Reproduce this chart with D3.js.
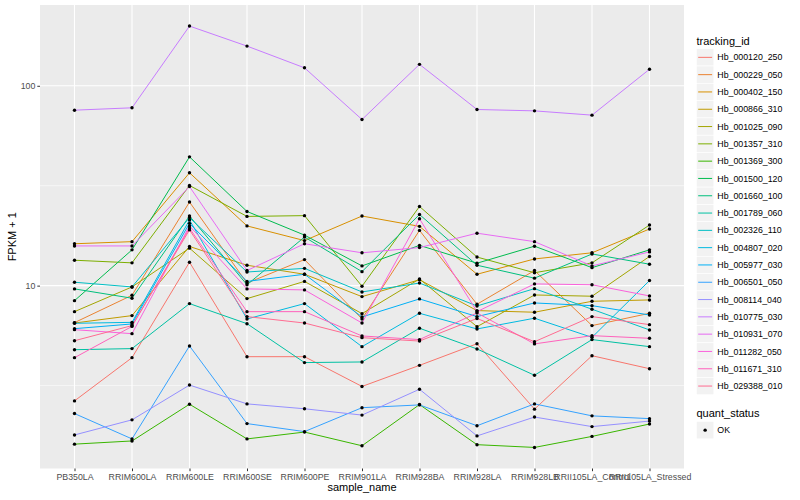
<!DOCTYPE html>
<html>
<head>
<meta charset="utf-8">
<title>FPKM + 1 by sample</title>
<style>
  body { margin: 0; background: #fff; }
  text { font-family: "Liberation Sans", Arial, Helvetica, sans-serif; }
</style>
</head>
<body>
<div id="chart"></div>
<script src="https://d3js.org/d3.v7.min.js"></script>
<script>

// categories
var samples = ["PB350LA", "RRIM600LA", "RRIM600LE", "RRIM600SE", "RRIM600PE", "RRIM901LA",
    "RRIM928BA", "RRIM928LA", "RRIM928LB", "RRII105LA_Control", "RRII105LA_Stressed"];

var trackingIds = ["Hb_000120_250", "Hb_000229_050", "Hb_000402_150", "Hb_000866_310",
    "Hb_001025_090", "Hb_001357_310", "Hb_001369_300", "Hb_001500_120", "Hb_001660_100",
    "Hb_001789_060", "Hb_002326_110", "Hb_004807_020", "Hb_005977_030", "Hb_006501_050",
    "Hb_008114_040", "Hb_010775_030", "Hb_010931_070", "Hb_011282_050", "Hb_011671_310",
    "Hb_029388_010"];

// FPKM + 1, one value per sample
var hb_000120_250 = [2.65, 4.36, 13.1, 4.41, 4.41, 3.13, 3.99, 5.12, 2.41, 4.46, 3.84];
var hb_000229_050 = [6.53, 8.95, 26.2, 10.3, 13.5, 6.81, 18.9, 8.07, 11.9, 6.31, 7.27];
var hb_000402_150 = [16.2, 16.6, 36.7, 19.9, 16.8, 22.3, 19.8, 11.4, 13.6, 14.6, 19.2];
var hb_000866_310 = [6.50, 7.08, 15.7, 12.65, 11.4, 8.81, 10.7, 7.50, 7.36, 8.35, 8.48];
var hb_001025_090 = [7.41, 9.85, 15.4, 8.61, 10.5, 7.24, 10.8, 6.23, 8.98, 8.85, 14.0];
var hb_001357_310 = [13.4, 13.0, 31.7, 22.2, 22.4, 9.93, 24.9, 13.9, 11.6, 13.0, 20.1];
var hb_001369_300 = [1.61, 1.67, 2.55, 1.71, 1.85, 1.58, 2.54, 1.60, 1.55, 1.76, 2.03];
var hb_001500_120 = [8.41, 15.1, 44.1, 23.5, 17.9, 12.55, 15.9, 12.95, 15.75, 12.3, 15.1];
var hb_001660_100 = [9.63, 8.65, 22.3, 10.1, 17.5, 11.75, 22.7, 12.65, 10.9, 14.4, 12.8];
var hb_001789_060 = [4.78, 4.84, 8.13, 6.45, 4.12, 4.15, 6.12, 4.82, 3.56, 5.37, 4.95];
var hb_002326_110 = [10.4, 9.85, 21.9, 11.7, 12.2, 9.30, 10.3, 7.91, 9.66, 7.62, 6.00];
var hb_004807_020 = [6.48, 6.55, 21.3, 6.81, 8.13, 4.95, 7.27, 6.07, 6.87, 5.51, 10.6];
var hb_005977_030 = [6.09, 6.43, 20.5, 10.5, 11.4, 6.97, 8.58, 7.00, 8.19, 7.94, 7.13];
var hb_006501_050 = [2.29, 1.71, 4.99, 2.04, 1.86, 2.45, 2.53, 1.99, 2.56, 2.23, 2.16];
var hb_008114_040 = [1.79, 2.13, 3.18, 2.56, 2.42, 2.25, 3.03, 1.77, 2.20, 1.97, 2.10];
var hb_010775_030 = [75.5, 77.6, 199, 158, 123, 67.8, 128, 76.1, 74.9, 71.3, 121];
var hb_010931_070 = [15.8, 15.8, 31.3, 11.9, 16.2, 14.6, 15.5, 18.3, 16.6, 12.55, 14.75];
var hb_011282_050 = [6.02, 5.75, 19.9, 9.63, 9.52, 6.50, 21.6, 7.41, 10.2, 10.1, 8.88];
var hb_011671_310 = [4.36, 6.25, 19.4, 7.41, 7.41, 5.60, 5.37, 7.30, 5.11, 5.62, 5.45];
var hb_029388_010 = [5.30, 6.31, 19.0, 7.00, 6.50, 5.49, 5.28, 6.85, 5.24, 7.00, 6.38];

var seriesValues = [hb_000120_250, hb_000229_050, hb_000402_150, hb_000866_310, hb_001025_090,
    hb_001357_310, hb_001369_300, hb_001500_120, hb_001660_100, hb_001789_060, hb_002326_110,
    hb_004807_020, hb_005977_030, hb_006501_050, hb_008114_040, hb_010775_030, hb_010931_070,
    hb_011282_050, hb_011671_310, hb_029388_010];

var quantStatus = ["OK"];
var yTicks = [10, 100];

// ggplot default hue palette for 20 levels
var palette = ["#F8766D", "#EA8331", "#D89000", "#C09B00", "#A3A500", "#7CAE00", "#39B600",
    "#00BB4E", "#00BF7D", "#00C1A3", "#00BFC4", "#00BAE0", "#00B0F6", "#35A2FF", "#9590FF",
    "#C77CFF", "#E76BF3", "#FA62DB", "#FF62BC", "#FF6C91"];

var margin = {top: 5, right: 116, bottom: 31.5, left: 40},
    width = 800 - margin.left - margin.right,
    height = 500 - margin.top - margin.bottom;

var svg = d3.select("#chart").append("svg")
    .attr("width", 800)
    .attr("height", 500);

var g = svg.append("g")
    .attr("transform", "translate(" + margin.left + "," + margin.top + ")");

var series = trackingIds.map(function(id, i) {
    return {
        id: id,
        values: seriesValues[i].map(function(v, j) { return {sample: samples[j], value: v}; })
    };
});

// log scale with ggplot's 5% expansion
var all = d3.merge(seriesValues);
var lo = Math.log10(d3.min(all)), hi = Math.log10(d3.max(all)), pad = (hi - lo) * 0.05;

var x = d3.scalePoint().domain(samples).range([0, width]).padding(0.6);
var y = d3.scaleLog().domain([Math.pow(10, lo - pad), Math.pow(10, hi + pad)]).range([height, 0]);
var colour = d3.scaleOrdinal().domain(trackingIds).range(palette);

// panel
g.append("rect")
    .attr("width", width)
    .attr("height", height)
    .attr("fill", "#EBEBEB");

// minor grid at half decades
var minor = [-0.5, 0.5, 1.5, 2.5].map(function(e) { return Math.pow(10, e); })
    .filter(function(v) { return v > y.domain()[0] && v < y.domain()[1]; });

g.selectAll(".minor")
    .data(minor)
    .enter().append("line")
    .attr("x1", 0).attr("x2", width)
    .attr("y1", function(d) { return y(d); })
    .attr("y2", function(d) { return y(d); })
    .attr("stroke", "#fff")
    .attr("stroke-width", 0.55);

g.selectAll(".hgrid")
    .data(yTicks)
    .enter().append("line")
    .attr("x1", 0).attr("x2", width)
    .attr("y1", function(d) { return y(d); })
    .attr("y2", function(d) { return y(d); })
    .attr("stroke", "#fff")
    .attr("stroke-width", 1.1);

g.selectAll(".vgrid")
    .data(samples)
    .enter().append("line")
    .attr("x1", function(d) { return x(d); })
    .attr("x2", function(d) { return x(d); })
    .attr("y1", 0).attr("y2", height)
    .attr("stroke", "#fff")
    .attr("stroke-width", 1.1);

// axes
var yAxis = g.append("g")
    .call(d3.axisLeft(y).tickValues(yTicks).tickFormat(d3.format("d")).tickSize(2.7).tickPadding(2));
var xAxis = g.append("g")
    .attr("transform", "translate(0," + height + ")")
    .call(d3.axisBottom(x).tickSize(2.7).tickPadding(2.5));

[xAxis, yAxis].forEach(function(a) {
    a.select(".domain").remove();
    a.selectAll(".tick line").attr("stroke", "#333").attr("stroke-width", 1);
    a.selectAll(".tick text").attr("fill", "#4D4D4D").style("font-size", "8.8px")
        .style("font-family", '"Liberation Sans", Arial, sans-serif');
});

// lines then points
var line = d3.line()
    .x(function(d) { return x(d.sample); })
    .y(function(d) { return y(d.value); });

g.selectAll(".series")
    .data(series)
    .enter().append("path")
    .attr("d", function(d) { return line(d.values); })
    .attr("fill", "none")
    .attr("stroke", function(d) { return colour(d.id); })
    .attr("stroke-width", 1);

g.selectAll(".pt")
    .data(d3.merge(series.map(function(s) { return s.values; })))
    .enter().append("circle")
    .attr("cx", function(d) { return x(d.sample); })
    .attr("cy", function(d) { return y(d.value); })
    .attr("r", 1.7)
    .attr("fill", "#000");

// axis titles
svg.append("text")
    .attr("x", margin.left + width / 2)
    .attr("y", 491)
    .attr("text-anchor", "middle")
    .style("font-size", "11px")
    .text("sample_name");

svg.append("text")
    .attr("transform", "translate(16," + (margin.top + height / 2) + ") rotate(-90)")
    .attr("text-anchor", "middle")
    .style("font-size", "11px")
    .text("FPKM + 1");

// legend: tracking_id
var keySize = 17.3, legX = 696.5;
var leg = svg.append("g").attr("transform", "translate(" + legX + ",0)");

leg.append("text")
    .attr("x", 0).attr("y", 44.5)
    .style("font-size", "11px")
    .text("tracking_id");

var keys = leg.selectAll(".key")
    .data(trackingIds)
    .enter().append("g")
    .attr("transform", function(d, i) { return "translate(0," + (48.7 + i * keySize) + ")"; });

keys.append("rect")
    .attr("width", keySize).attr("height", keySize)
    .attr("fill", "#F2F2F2")
    .attr("stroke", "#fff").attr("stroke-width", 0.6);

keys.append("line")
    .attr("x1", 1.7).attr("x2", keySize - 1.7)
    .attr("y1", keySize / 2).attr("y2", keySize / 2)
    .attr("stroke", function(d) { return colour(d); })
    .attr("stroke-width", 1);

keys.append("text")
    .attr("x", keySize + 3.5)
    .attr("y", keySize / 2)
    .attr("dy", "0.35em")
    .style("font-size", "8.8px")
    .text(function(d) { return d; });

// legend: quant_status
leg.append("text")
    .attr("x", 0).attr("y", 417)
    .style("font-size", "11px")
    .text("quant_status");

var qkeys = leg.selectAll(".qkey")
    .data(quantStatus)
    .enter().append("g")
    .attr("transform", function(d, i) { return "translate(0," + (421.5 + i * keySize) + ")"; });

qkeys.append("rect")
    .attr("width", keySize).attr("height", keySize)
    .attr("fill", "#F2F2F2")
    .attr("stroke", "#fff").attr("stroke-width", 0.6);

qkeys.append("circle")
    .attr("cx", keySize / 2).attr("cy", keySize / 2)
    .attr("r", 1.7)
    .attr("fill", "#000");

qkeys.append("text")
    .attr("x", keySize + 3.5)
    .attr("y", keySize / 2)
    .attr("dy", "0.35em")
    .style("font-size", "8.8px")
    .text(function(d) { return d; });

</script>
</body>
</html>
